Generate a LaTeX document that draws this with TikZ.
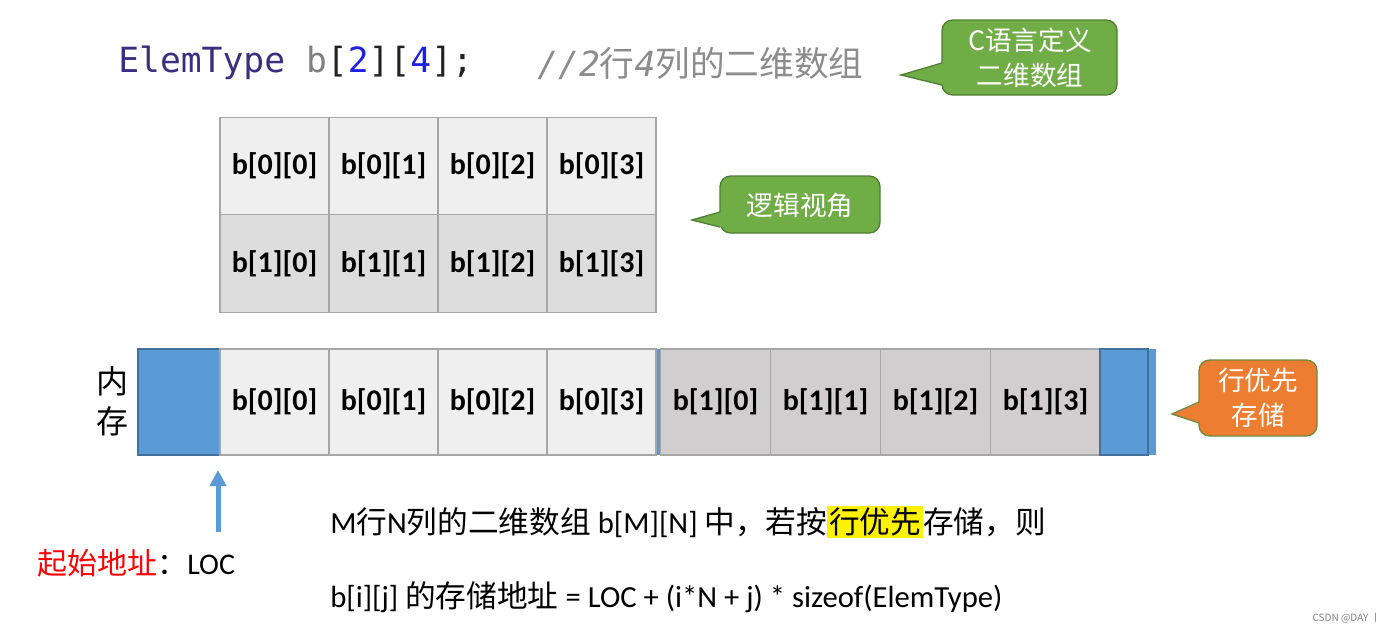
\documentclass[tikz,border=0pt]{standalone}
\usepackage{fontspec}
\setmainfont{Carlito}
\newfontfamily\cjk{Noto Sans CJK SC}
\newfontfamily\mono{DejaVu Sans Mono}
\usetikzlibrary{arrows.meta}
\definecolor{cellA}{HTML}{EFEFEF}
\definecolor{cellB}{HTML}{DDDDDD}
\definecolor{cellC}{HTML}{D0CECE}
\definecolor{cellline}{HTML}{A6A6A6}
\definecolor{memblue}{HTML}{5B9BD5}
\definecolor{memblueD}{HTML}{41719C}
\definecolor{cgreen}{HTML}{70AD47}
\definecolor{cgreenD}{HTML}{507E32}
\definecolor{corange}{HTML}{ED7D31}
\definecolor{corangeD}{HTML}{6F8A3A}
\definecolor{kw}{HTML}{3B2E7E}
\definecolor{gr}{HTML}{7F7F7F}
\definecolor{bk}{HTML}{222222}
\definecolor{nb}{HTML}{1F1FE0}
\definecolor{cm}{HTML}{8C8C8C}
\tikzset{
  cellbase/.style={draw=cellline, line width=0.9pt, minimum width=81.75pt, inner sep=0pt,
     font=\fontsize{22.5pt}{26pt}\selectfont\bfseries, text=black},
  lcellA/.style={cellbase, fill=cellA, minimum height=73.1pt},
  lcellB/.style={cellbase, fill=cellB, minimum height=73.1pt},
  mcellA/.style={cellbase, fill=cellA, minimum height=79.5pt},
  mcellC/.style={cellbase, fill=cellC, minimum height=79.5pt, minimum width=82.5pt},
  bluebox/.style={draw=memblueD, fill=memblue, line width=0.9pt, inner sep=0pt, minimum height=79.5pt},
  calltext/.style={text=white, font=\cjk\fontsize{20pt}{22pt}\selectfont, align=center, inner sep=0pt},
  bodytext/.style={font=\fontsize{23pt}{26pt}\selectfont, anchor=west, inner sep=0pt, text=black},
}
% callout: #1 fill, #2 border, #3 left, #4 top, #5 right, #6 bottom, #7 base upper y, #8 base lower y, #9 tip
\newcommand{\mycallout}[9]{%
  \path[fill=#1, draw=#2, line width=1pt, rounded corners=8] (#3,#4) rectangle (#5,#6);
  \fill[#1] #9 -- (#3+2,#7) -- (#3+2,#8) -- cycle;
  \draw[#2, line width=1pt, line join=miter] (#3,#7) -- #9 -- (#3,#8);
}
\begin{document}
\begin{tikzpicture}[x=0.75pt,y=-0.75pt]
\useasboundingbox (0,0) rectangle (1389,632);
\fill[white] (0,0) rectangle (1389,632);

% code line
\node[anchor=west, inner sep=0pt, font=\mono\fontsize{26pt}{30pt}\selectfont] (code) at (118,63)
  {\color{kw}ElemType \color{gr}b\color{bk}[\color{nb}2\color{bk}][\color{nb}4\color{bk}];};
\node[anchor=west, inner sep=0pt, font=\mono\fontsize{26pt}{30pt}\selectfont\itshape, text=cm] (comment) at (537,63)
  {//2{\cjk 行}4{\cjk 列的二维数组}};

% callout 1
\mycallout{cgreen}{cgreenD}{942}{20}{1117}{95}{63}{85}{(901,75)}
\node[calltext] (defC) at (1030,58) {C语言定义\\[4pt]二维数组};

% logical table
\foreach \c [count=\i from 0] in {274.5,383.5,492.5,601.5}{
  \node[lcellA] (l0\i) at (\c,166) {b[0][\i]};
  \node[lcellB] (l1\i) at (\c,263.5) {b[1][\i]};
}

% callout 2
\mycallout{cgreen}{cgreenD}{720}{176}{880}{233}{212}{227}{(692,220)}
\node[calltext] (logic) at (800,205) {逻辑视角};

% memory row
\node[bluebox, minimum width=61.5pt] (mleft) at (179,402) {};
\foreach \c [count=\i from 0] in {274.5,383.5,492.5,601.5}{
  \node[mcellA] (m0\i) at (\c,402) {b[0][\i]};
}
\fill[memblue] (657,349) rectangle (661,455);
\foreach \c [count=\i from 0] in {715.5,825.5,935.5,1045.5}{
  \node[mcellC] (m1\i) at (\c,402) {b[1][\i]};
}
\fill[memblue] (1140,349) rectangle (1156,455);
\node[bluebox, minimum width=36pt] (mright) at (1124,402) {};

\node[font=\cjk\fontsize{24pt}{26pt}\selectfont, inner sep=0pt] (nei) at (112,381) {内};
\node[font=\cjk\fontsize{24pt}{26pt}\selectfont, inner sep=0pt] (cun) at (112,421) {存};

% callout 3
\mycallout{corange}{corangeD}{1199}{360}{1317}{436}{402}{423}{(1172,414)}
\node[calltext] (rowfirst) at (1258,398) {行优先\\[4pt]存储};

% arrow
\coordinate (locS) at (218,532);
\coordinate (locT) at (218,470);
\draw[memblue, line width=3.75pt, -{Triangle[length=12pt,width=12pt]}] (locS) -- (locT);

\node[anchor=west, inner sep=0pt, font=\fontsize{22.5pt}{26pt}\selectfont] (loc) at (37,563)
  {{\cjk\color{red}起始地址}{\cjk ：}LOC};

% formula text
\node[bodytext] (line1) at (330,522)
  {M{\cjk 行}N{\cjk 列的二维数组} b[M][N] {\cjk 中，若按}{\setlength{\fboxsep}{1.5pt}\colorbox{yellow}{\cjk 行优先}}{\cjk 存储，则}};
\node[bodytext] (line2) at (330,597)
  {b[i][j] {\cjk 的存储地址} = LOC + (i*N + j) * sizeof(ElemType)};

\node[anchor=east, inner sep=0pt, font=\cjk\fontsize{7.5pt}{9pt}\selectfont, text=gray] (wm) at (1381,618) {CSDN @DAY 丨};
\end{tikzpicture}
\end{document}
